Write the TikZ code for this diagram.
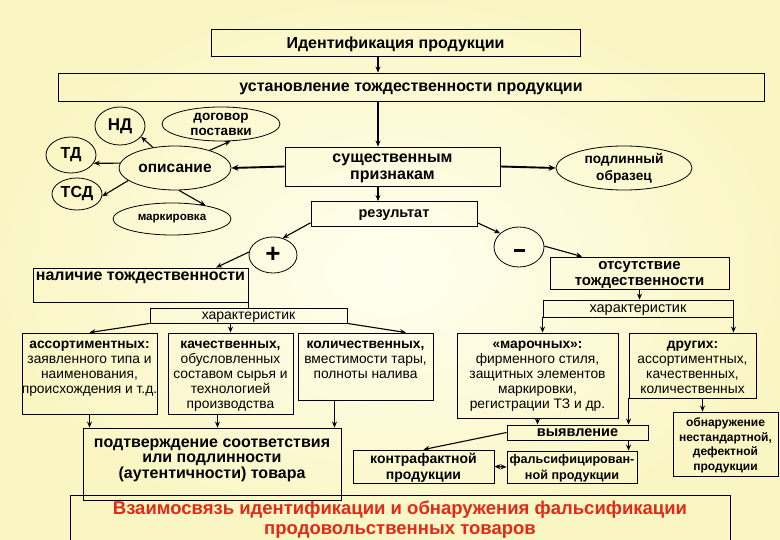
\documentclass[tikz,border=0pt]{standalone}
\usepackage{fontspec}
\setmainfont{Liberation Sans}
\usetikzlibrary{shapes.geometric,arrows.meta,calc}
\definecolor{bgin}{RGB}{255,255,240}
\definecolor{bgout}{RGB}{250,246,196}
\definecolor{titlered}{RGB}{226,42,22}
\newcommand{\fs}[2]{\fontsize{#1}{#2}\selectfont}
\begin{document}
\begin{tikzpicture}[x=1pt,y=-1pt,
  box/.style={draw, line width=0.9pt, inner sep=0pt, align=center, text depth=0pt, font=\bfseries\fs{16}{17}},
  ell/.style={draw, ellipse, line width=0.8pt, inner sep=0pt, align=center, font=\bfseries\fs{15.5}{17}},
  coltxt/.style={inner sep=0pt, align=center, font=\fs{13.8}{15}},
  arr/.style={line width=1.1pt, -{Stealth[length=6pt,width=5pt]}},
  thickarr/.style={line width=1.9pt, -{Stealth[length=7pt,width=6pt]}},
  plain/.style={line width=0.9pt}]
\useasboundingbox (0,0) rectangle (780,540);
\shade[inner color=bgin, outer color=bgout] (0,0) rectangle (780,540);
\coordinate (spine) at (378,0);

% top boxes
\node[box, minimum width=369pt, minimum height=27pt] (ident) at (395.5,42.5) {Идентификация продукции};
\node[box, minimum width=706pt, minimum height=28pt] (ustan) at (411,87) {установление тождественности продукции};
\node[box, minimum width=215pt, minimum height=39pt] (sush) at (392.5,166.5) {существенным\\признакам};
\node[box, minimum width=166pt, minimum height=25pt, font=\bfseries\fs{14.5}{16}] (rez) at (394,214) {результат};

% ellipses
\node[ell, minimum width=50pt, minimum height=38pt, font=\bfseries\fs{17}{18}] (nd) at (120,126) {НД};
\node[ell, minimum width=118pt, minimum height=34pt, font=\bfseries\fs{13.5}{15}] (dog) at (221,124) {договор\\поставки};
\node[ell, minimum width=50pt, minimum height=36pt, font=\bfseries\fs{16}{18}] (td) at (71,155) {ТД};
\node[ell, minimum width=50pt, minimum height=32pt, font=\bfseries\fs{16}{18}] (tsd) at (77,194) {ТСД};
\node[ell, minimum width=112pt, minimum height=44pt] (opis) at (175,168) {описание};
\node[ell, minimum width=118pt, minimum height=32pt, font=\bfseries\fs{11.6}{14}] (mark) at (172,219) {маркировка};
\node[ell, minimum width=136pt, minimum height=44pt, font=\bfseries\fs{13.7}{17}] (podl) at (624,168) {подлинный\\образец};
\node[ell, minimum width=48pt, minimum height=36pt, font=\bfseries\fs{26}{26}] (plus) at (273,255) {+};
\node[ell, minimum width=50pt, minimum height=40pt] (minus) at (519,247) {};
\fill[line width=0pt] ($(minus.center)+(-5.5,2)$) rectangle ($(minus.center)+(5.5,5)$);

% identity / non-identity
\node[box, minimum width=215pt, minimum height=34pt] (nalich) at (140.5,285) {};
\node[inner sep=0pt, font=\bfseries\fs{16}{17}] (nalichT) at (140.5,277.5) {наличие тождественности};
\node[box, minimum width=179pt, minimum height=32pt, font=\bfseries\fs{15}{16}] (otsut) at (639.5,273) {отсутствие\\тождественности};

\node[box, minimum width=197pt, minimum height=15pt, font=\fs{14}{15}] (harL) at (248.5,315.5) {характеристик};
\node[box, minimum width=190pt, minimum height=17pt, font=\fs{14.5}{15}] (harR) at (638,308.5) {характеристик};

% column boxes
\node[box, minimum width=135pt, minimum height=81pt] (assort) at (89.5,373.5) {};
\node[coltxt, anchor=north] (assortT) at (89.5,340.5) {\textbf{ассортиментных:}\\заявленного типа и\\наименования,\\происхождения и т.д.};
\node[box, minimum width=125pt, minimum height=81pt] (kach) at (230.5,373.5) {};
\node[coltxt, anchor=north] (kachT) at (230.5,340.5) {\textbf{качественных,}\\обусловленных\\составом сырья и\\технологией\\производства};
\node[box, minimum width=135pt, minimum height=67pt] (kolich) at (365.5,366.5) {};
\node[coltxt, anchor=north] (kolichT) at (365.5,340.5) {\textbf{количественных,}\\вместимости тары,\\полноты налива};
\node[box, minimum width=161pt, minimum height=85pt] (maroch) at (537.5,375.5) {};
\node[coltxt, anchor=north] (marochT) at (537.5,340.5) {\textbf{«марочных»:}\\фирменного стиля,\\защитных элементов\\маркировки,\\регистрации ТЗ и др.};
\node[box, minimum width=127pt, minimum height=65pt] (drugie) at (692.5,365.5) {};
\node[coltxt, anchor=north] (drugieT) at (692.5,340.5) {\textbf{других:}\\ассортиментных,\\качественных,\\количественных};

\node[box, minimum width=105pt, minimum height=64pt, font=\bfseries\fs{12}{14.5}] (obnar) at (725.5,444) {обнаружение\\нестандартной,\\дефектной\\продукции};

% bottom area
\node[box, minimum width=660pt, minimum height=52pt] (bottom) at (400,521) {};
\node[inner sep=0pt, align=center, text=titlered, font=\bfseries\fs{18.5}{20}] (title) at (400,520) {Взаимосвязь идентификации и обнаружения фальсификации\\продовольственных товаров};
\node[box, minimum width=258pt, minimum height=72pt] (podtv) at (212,464) {};
\node[inner sep=0pt, align=center, font=\bfseries\fs{16}{15.5}] (podtvT) at (212,460) {подтверждение соответствия\\или подлинности\\(аутентичности) товара};
\node[box, minimum width=141pt, minimum height=15pt, font=\bfseries\fs{14.5}{15}] (vyiav) at (577.5,432.5) {выявление};
\node[box, minimum width=141pt, minimum height=33pt, font=\bfseries\fs{14}{15.5}] (kontr) at (423.5,466.5) {контрафактной\\продукции};
\node[box, minimum width=130pt, minimum height=32pt, font=\bfseries\fs{12.6}{15.5}] (fals) at (572,467) {фальсифицирован-\\ной продукции};

% connectors
\draw[arr] (ident.south -| spine) -- (ustan.north -| spine);
\draw[arr] (ustan.south -| spine) -- (sush.north -| spine);
\draw[arr] (sush.south -| spine) -- (rez.north -| spine);
\draw[thickarr] (sush.west) -- (opis.east);
\draw[thickarr] (sush.east) -- (podl.west);
\draw[arr] (opis.137) -- (nd.-27);
\draw[arr] (opis.27) -- (dog.-61);
\draw[arr] (opis.175) -- (td.-20);
\draw[arr] (opis.195) -- (tsd.-5);
\draw[arr] (opis.-80) -- (mark.22);
\draw[arr] (rez.186) -- (plus.60);
\draw[arr] (plus.173) -- (nalich.13);
\draw[arr] (rez.-6) -- (minus.144);
\draw[arr] (minus.2) -- (otsut.164);
\draw[arr] (otsut.south) -- (otsut.south |- harR.north);
\draw[arr] (harR.south west) -- (harR.south west |- maroch.north);
\draw[arr] (harR.south east) -- (harR.south east |- drugie.north);
\draw[plain] (nalich.south east) -- (nalich.south east |- harL.north);
\draw[arr] (harL.south west) -- (assort.north);
\draw[arr] (kach.north |- harL.south) -- (kach.north);
\draw[arr] (harL.south east) -- (kolich.40);
\draw[arr] (assort.south) -- (assort.south |- podtv.north);
\draw[arr] ([xshift=-13pt]kach.south) -- ([xshift=-13pt]kach.south |- podtv.north);
\draw[arr] ([xshift=-31pt]kolich.south) -- ([xshift=-31pt]kolich.south |- podtv.north);
\draw[arr] (maroch.south) -- (maroch.south |- vyiav.north);
\draw[arr] (drugie.south west) -- (drugie.south west |- vyiav.north);
\draw[arr] ([xshift=10pt]drugie.south) -- ([xshift=10pt]drugie.south |- obnar.north);
\draw[arr] (drugie.south west |- vyiav.south) -- (drugie.south west |- fals.north);
\draw[arr] (vyiav.west) -- (kontr.north);
\draw[line width=1.1pt, {Stealth[length=6pt,width=5pt]}-{Stealth[length=6pt,width=5pt]}] (kontr.east) -- (fals.west);
\end{tikzpicture}
\end{document}
